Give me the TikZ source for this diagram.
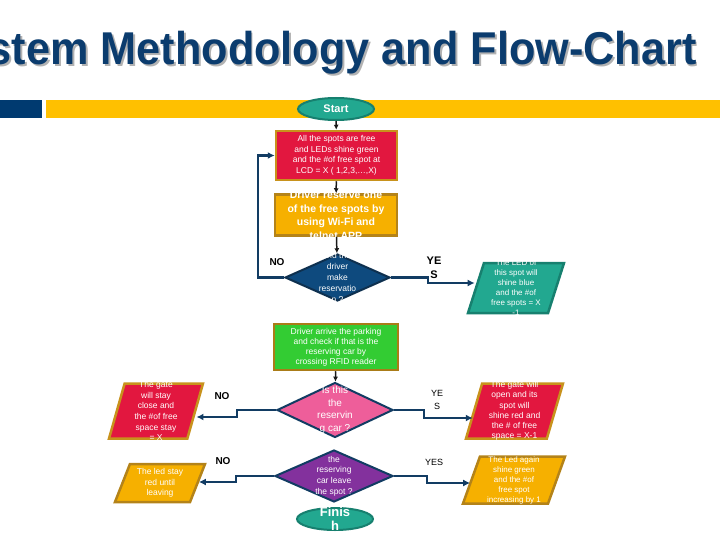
\documentclass[tikz,border=0pt]{standalone}
\usepackage{fontspec}
\setmainfont{Liberation Sans}
\usepackage{xcolor}
\usepackage{tikz}
\usetikzlibrary{arrows.meta, shapes.geometric}

\definecolor{titleblue}{HTML}{0B3C6E}
\definecolor{barblue}{HTML}{003A70}
\definecolor{baryellow}{HTML}{FFC000}
\definecolor{tealfill}{HTML}{22A890}
\definecolor{tealdraw}{HTML}{17806F}
\definecolor{redfill}{HTML}{E2173F}
\definecolor{golddraw}{HTML}{C8921C}
\definecolor{orangefill}{HTML}{F6B000}
\definecolor{greenfill}{HTML}{33CC33}
\definecolor{darkdiam}{HTML}{0E4A7E}
\definecolor{pinkfill}{HTML}{EE5E9A}
\definecolor{purplefill}{HTML}{83319D}
\definecolor{linkblue}{HTML}{123C63}

\newcommand{\shadowtitle}[1]{\rlap{\kern2pt\raisebox{-2pt}{\color{black!30}#1}}#1}

\begin{document}
\begin{tikzpicture}[x=1pt, y=-1pt,
    terminal/.style={ellipse, draw=tealdraw, line width=2pt, fill=tealfill, minimum width=76, minimum height=22, inner sep=0},
    block/.style={rectangle, draw=golddraw, line width=2.5pt, inner sep=0},
    decision/.style={diamond, draw=linkblue, line width=2pt, inner sep=0},
    io/.style={trapezium, trapezium left angle=76, trapezium right angle=104, trapezium stretches=true, draw=golddraw, line width=2.5pt, inner sep=2pt},
    txt/.style={text=white, align=center, inner sep=0},
    answer/.style={font=\fontsize{10}{11}\selectfont},
    arrow/.style={-{Latex[length=5pt,width=5pt]}, line width=1.5pt, black!90},
    larrow/.style={-{Latex[length=7pt,width=7pt]}, line width=2.8pt, linkblue},
  ]
  \useasboundingbox (0,0) rectangle (720,540);

  % Title
  \node[anchor=base east, text=titleblue, font=\fontsize{46}{50}\selectfont\bfseries] (title) at (700,65)
    {\scalebox{0.94}[1]{\shadowtitle{stem Methodology and Flow-Chart}}};

  % Bars
  \fill[barblue] (0,100) rectangle (42,118);
  \fill[baryellow] (46,100) rectangle (720,118);

  % Start
  \node[terminal, text=white, font=\fontsize{11}{13}\selectfont\bfseries] (start) at (336,109) {Start};

  % Free spots
  \node[block, fill=redfill, minimum width=121, minimum height=49,
    label={[txt, font=\fontsize{8.5}{10.5}\selectfont]center:{All the spots are free\\and LEDs shine green\\and the \#of free spot at\\LCD = X ( 1,2,3,\dots,X)}}] (spots) at (336.5,155.5) {};

  % Reservation
  \node[block, fill=orangefill, draw=golddraw!90!black, minimum width=122, minimum height=41,
    label={[txt, font=\fontsize{10.5}{13.5}\selectfont\bfseries]center:{Driver reserve one\\of the free spots by\\using Wi-Fi and\\telnet APP}}] (reserve) at (336,215) {};

  % Did the driver make reservation
  \node[decision, fill=darkdiam, draw=linkblue!80!black, minimum width=105, minimum height=47,
    label={[txt, font=\fontsize{8.5}{11}\selectfont]center:{Did the\\driver\\make\\reservatio\\n ?}}] (booked) at (337.5,277.5) {};
  \node[answer, font=\fontsize{10}{11}\selectfont\bfseries] (no1) at (277,262) {NO};
  \node[answer, align=center, font=\fontsize{11}{13.5}\selectfont\bfseries] (yes1) at (434,268) {YE\\S};

  % Blue LED
  \node[io, fill=tealfill, draw=tealdraw, minimum width=96, minimum height=50,
    label={[txt, font=\fontsize{8}{10}\selectfont]center:{The LED of\\this spot will\\shine blue\\and the \#of\\free spots = X\\-1}}] (blueled) at (516,288) {};

  % Arrival
  \node[block, fill=greenfill, draw=golddraw!85!black, minimum width=124, minimum height=46,
    label={[txt, font=\fontsize{8.5}{10}\selectfont]center:{Driver arrive the parking\\and check if that is the\\reserving car by\\crossing RFID reader}}] (arrive) at (336,347) {};

  % Is this the reserving car
  \node[decision, fill=pinkfill, minimum width=116, minimum height=55,
    label={[txt, font=\fontsize{10}{12.7}\selectfont]center:{Is this\\the\\reservin\\g car ?}}] (check) at (335,410) {};
  \node[answer, font=\fontsize{10}{11}\selectfont\bfseries] (no2) at (222,396) {NO};
  \node[answer, align=center, font=\fontsize{9}{12.5}\selectfont] (yes2) at (437,400) {YE\\S};

  % Gate closed
  \node[io, fill=redfill, minimum width=94, minimum height=55,
    label={[txt, font=\fontsize{8.5}{10.7}\selectfont]center:{The gate\\will stay\\close and\\the \#of free\\space stay\\= X}}] (shut) at (156,411) {};

  % Gate open
  \node[io, fill=redfill, minimum width=97, minimum height=55,
    label={[txt, font=\fontsize{8.5}{10.2}\selectfont]center:{The gate will\\open and its\\spot will\\shine red and\\the \# of free\\space = X-1}}] (open) at (514.5,411) {};

  % Did the reserving car leave
  \node[decision, fill=purplefill, minimum width=118, minimum height=52,
    label={[txt, font=\fontsize{8.5}{10.7}\selectfont]center:{the\\reserving\\car leave\\the spot ?}}] (leave) at (334,476) {};
  \node[answer, font=\fontsize{10}{11}\selectfont\bfseries] (no3) at (223,461) {NO};
  \node[answer, font=\fontsize{9}{11}\selectfont] (yes3) at (434,462) {YES};

  % Led stays red
  \node[io, fill=orangefill, draw=golddraw!90!black, minimum width=90, minimum height=38,
    label={[txt, font=\fontsize{8.5}{10.5}\selectfont]center:{The led stay\\red until\\leaving}}] (stay) at (160,483) {};

  % Led green again
  \node[io, fill=orangefill, draw=golddraw!90!black, minimum width=102, minimum height=47,
    label={[txt, font=\fontsize{8}{10}\selectfont]center:{The Led again\\shine green\\and the \#of\\free spot\\increasing by 1}}] (again) at (514,480) {};

  % Finish
  \node[terminal, label={[txt, font=\fontsize{13}{14}\selectfont\bfseries]center:{Finis\\h}}] (finish) at (335,519) {};

  % Arrows
  \draw[arrow] (start) -- (spots);
  \draw[arrow] (spots) -- (reserve);
  \draw[arrow] (reserve) -- (booked);
  \draw[larrow] (booked.west) -- ++(-26,0) |- (spots.west);
  \draw[larrow] (booked.east) -- ++(37,0) |- ([yshift=5pt]blueled.west);
  \draw[arrow] (arrive) -- (check);
  \draw[larrow] (check.west) -- ++(-39,0) |- ([yshift=-6pt]shut.east);
  \draw[larrow] (check.east) -- ++(30,0) |- ([yshift=-7pt]open.west);
  \draw[larrow] (leave.west) -- ++(-38,0) |- ([yshift=1pt]stay.east);
  \draw[larrow] (leave.east) -- ++(33,0) |- ([yshift=-3pt]again.west);

\end{tikzpicture}
\end{document}
